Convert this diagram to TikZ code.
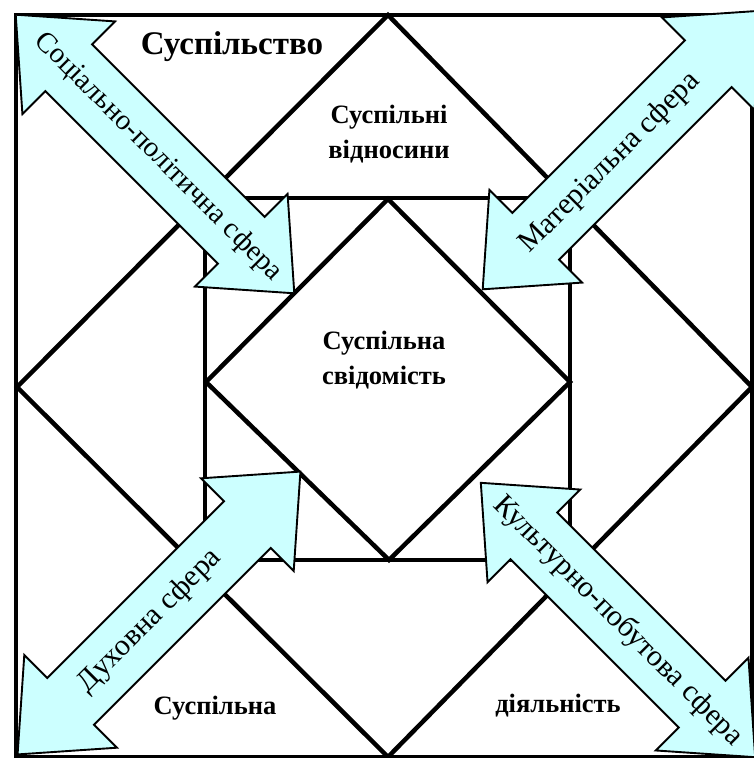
\documentclass[tikz,border=0pt]{standalone}
\usepackage{fontspec}
\setmainfont{Liberation Serif}
\definecolor{arrowfill}{RGB}{204,255,255}
\tikzset{
  frame/.style={line width=4.5pt, line join=miter},
  arr/.style={draw=black, line width=1.9pt, fill=arrowfill, line join=miter},
  arrtext/.style={font=\fontsize{30}{32}\selectfont, inner sep=0pt},
  boldlbl/.style={font=\bfseries\fontsize{26.5}{30}\selectfont, inner sep=0pt},
  titlelbl/.style={font=\bfseries\fontsize{33}{36}\selectfont, inner sep=0pt},
  halflen/.store in=\halflen, halflen=197,
  dblarrow/.pic={
    \path[arr] (-\halflen,0) -- (-\halflen+75,65.5) -- (-\halflen+75,33)
      -- (\halflen-75,33) -- (\halflen-75,65.5) -- (\halflen,0)
      -- (\halflen-75,-65.5) -- (\halflen-75,-33) -- (-\halflen+75,-33)
      -- (-\halflen+75,-65.5) -- cycle;
  }
}
\begin{document}
\begin{tikzpicture}[x=1pt,y=1pt]
\useasboundingbox (0,0) rectangle (753,-758);
\fill[white] (0,0) rectangle (753,-758);
% frames
\draw[frame] (16,-15) rectangle (752,-757);
\draw[frame] (388,-15) -- (752,-387) -- (388,-757) -- (17,-387) -- cycle;
\draw[frame] (205,-198) rectangle (570,-560);
\draw[frame] (388,-199) -- (570,-382) -- (389,-560) -- (206,-382) -- cycle;
% arrows
\pic[rotate=-45, halflen=197] at (155,-154) {dblarrow};
\pic[rotate=45, halflen=197] at (622,-150) {dblarrow};
\pic[rotate=45, halflen=200] at (159,-613) {dblarrow};
\pic[rotate=-45, halflen=194] at (618,-620) {dblarrow};
% arrow texts
\node[arrtext, font=\fontsize{28.8}{32}\selectfont, rotate=-45] (t1) at (158,-157) {Соціально-політична сфера};
\node[arrtext, rotate=45] (t2) at (610,-163) {Матеріальна сфера};
\node[arrtext, rotate=45] (t3) at (150,-621) {Духовна сфера};
\node[arrtext, rotate=-45] (t4) at (618,-621) {Культурно-побутова сфера};
% labels
\node[titlelbl] (soc) at (232,-47) {Суспільство};
\node[boldlbl] (rel1) at (389,-117) {Суспільні};
\node[boldlbl] (rel2) at (389,-152) {відносини};
\node[boldlbl] (con1) at (384,-343) {Суспільна};
\node[boldlbl] (con2) at (384,-378) {свідомість};
\node[boldlbl] (act1) at (215,-708) {Суспільна};
\node[boldlbl] (act2) at (558,-706) {діяльність};
\end{tikzpicture}
\end{document}
